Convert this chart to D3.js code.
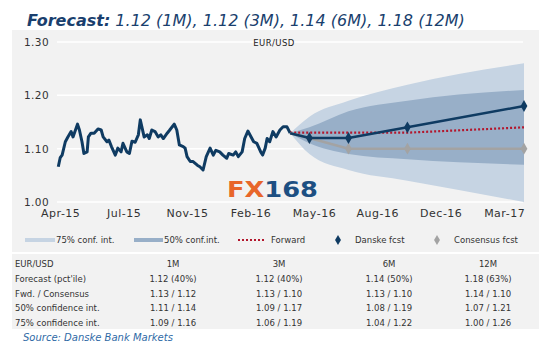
<!DOCTYPE html>
<html><head><meta charset="utf-8">
<script src="https://cdn.jsdelivr.net/npm/d3@7"></script>
<style>
body{margin:0;background:#fff;}
text{font-family:"DejaVu Sans",sans-serif;}
</style></head>
<body><svg id="c" width="554" height="342"></svg>
<script>
// ---------- DATA ----------
const historyDates = ["2015-04-17","2015-04-20","2015-04-23","2015-04-28","2015-05-02","2015-05-07","2015-05-10","2015-05-17","2015-05-20","2015-05-24","2015-05-27","2015-06-01","2015-06-03","2015-06-07","2015-06-12","2015-06-18","2015-06-23","2015-06-26","2015-07-02","2015-07-05","2015-07-09","2015-07-15","2015-07-19","2015-07-24","2015-07-27","2015-08-02","2015-08-06","2015-08-10","2015-08-15","2015-08-20","2015-08-23","2015-08-26","2015-08-29","2015-09-03","2015-09-06","2015-09-10","2015-09-15","2015-09-20","2015-09-24","2015-09-28","2015-10-04","2015-10-08","2015-10-15","2015-10-19","2015-10-23","2015-10-29","2015-11-01","2015-11-04","2015-11-09","2015-11-13","2015-11-20","2015-11-24","2015-11-29","2015-12-04","2015-12-10","2015-12-15","2015-12-19","2015-12-25","2015-12-30","2016-01-05","2016-01-08","2016-01-15","2016-01-19","2016-01-23","2016-01-29","2016-02-02","2016-02-07","2016-02-12","2016-02-16","2016-02-21","2016-02-27","2016-03-01","2016-03-05","2016-03-08","2016-03-12","2016-03-17","2016-03-22","2016-03-28","2016-04-02","2016-04-08","2016-04-13"];
const historyValues = [1.066,1.083,1.088,1.113,1.122,1.132,1.122,1.146,1.135,1.113,1.091,1.094,1.122,1.129,1.129,1.137,1.135,1.122,1.113,1.116,1.104,1.088,1.101,1.094,1.110,1.094,1.091,1.114,1.112,1.126,1.154,1.138,1.122,1.126,1.119,1.135,1.132,1.122,1.126,1.119,1.129,1.135,1.146,1.135,1.107,1.104,1.101,1.085,1.076,1.076,1.069,1.066,1.060,1.085,1.101,1.088,1.097,1.094,1.088,1.082,1.091,1.088,1.094,1.085,1.094,1.119,1.133,1.122,1.113,1.110,1.094,1.088,1.101,1.119,1.113,1.132,1.122,1.135,1.141,1.141,1.129];

const horizonLabels = ["Spot","1M","3M","6M","12M"];
const horizonDates = ["2016-04-13","2016-05-13","2016-07-13","2016-10-13","2017-04-13"];
const danskeFcst = [1.129,1.12,1.12,1.14,1.18];
const consensusFcst = [1.129,1.12,1.10,1.10,1.10];
const forwardFcst = [1.13,1.13,1.13,1.13,1.14];
const ci50Low  = [1.129,1.11,1.09,1.08,1.07];
const ci50High = [1.129,1.14,1.17,1.19,1.21];
const ci75Low  = [1.129,1.09,1.06,1.04,1.00];
const ci75High = [1.129,1.16,1.19,1.22,1.26];

const xTickDates  = ["2015-04-20","2015-07-28","2015-11-04","2016-02-11","2016-05-20","2016-08-27","2016-12-04","2017-03-13"];
const xTickLabels = ["Apr-15","Jul-15","Nov-15","Feb-16","May-16","Aug-16","Dec-16","Mar-17"];
const yTicks = [1.00,1.10,1.20,1.30];

const tableHeader = ["EUR/USD","1M","3M","6M","12M"];
const tableRows = [
  ["Forecast (pct'ile)","1.12 (40%)","1.12 (40%)","1.14 (50%)","1.18 (63%)"],
  ["Fwd. / Consensus","1.13 / 1.12","1.13 / 1.10","1.13 / 1.10","1.14 / 1.10"],
  ["50% confidence int.","1.11 / 1.14","1.09 / 1.17","1.08 / 1.19","1.07 / 1.21"],
  ["75% confidence int.","1.09 / 1.16","1.06 / 1.19","1.04 / 1.22","1.00 / 1.26"]
];

// ---------- DRAW ----------
const P = d3.timeParse("%Y-%m-%d");
const svg = d3.select("#c");
const C = {navy:"#0f3b62", gray:"#a3a3a3", red:"#b3162c", light:"#c6d4e3", dark:"#98afc8", bg:"#f2f2f2"};

// panels
svg.append("rect").attr("x",12).attr("y",30).attr("width",527).attr("height",222).attr("fill",C.bg);
svg.append("rect").attr("x",12).attr("y",254).attr("width",527).attr("height",75).attr("fill",C.bg);

// title
const title = svg.append("text").attr("x",27).attr("y",26).attr("font-size",16).attr("fill","#1a3f6e").attr("font-style","italic");
title.append("tspan").attr("font-weight","bold").text("Forecast:");
title.append("tspan").text(" 1.12 (1M), 1.12 (3M), 1.14 (6M), 1.18 (12M)");

const x = d3.scaleTime().domain([P("2015-04-15"), P("2017-04-13")]).range([57,524]);
const y = d3.scaleLinear().domain([1.00,1.30]).range([202,42]);

// grid
svg.append("g").selectAll("line").data(yTicks).join("line")
  .attr("x1",57).attr("x2",523).attr("y1",d=>y(d)).attr("y2",d=>y(d))
  .attr("stroke","#ffffff").attr("stroke-width",1.5);

// y axis labels
const yAxis = svg.append("g").attr("transform","translate(49,0)")
  .call(d3.axisLeft(y).tickValues(yTicks).tickFormat(d3.format(".2f")).tickSize(0).tickPadding(0));
yAxis.select(".domain").remove();
yAxis.selectAll("text").attr("font-size",10.5).attr("fill","#333").attr("font-family","DejaVu Sans").attr("letter-spacing",0.4);

// x axis labels
const xAxis = svg.append("g").attr("transform","translate(0,209)")
  .call(d3.axisBottom(x).tickValues(xTickDates.map(P)).tickFormat((d,i)=>xTickLabels[i]).tickSize(0).tickPadding(0));
xAxis.select(".domain").remove();
xAxis.selectAll("text").attr("font-size",11).attr("fill","#333").attr("font-family","DejaVu Sans").attr("letter-spacing",0.5);

svg.append("text").attr("x",274).attr("y",46).attr("text-anchor","middle").attr("font-size",8.5)
  .attr("fill","#222").attr("letter-spacing",0.4).text("EUR/USD");

// fans
const hd = horizonDates.map(P);
const area = (lo,hi)=>d3.area().curve(d3.curveMonotoneX).x((d,i)=>x(hd[i])).y0((d,i)=>y(lo[i])).y1((d,i)=>y(hi[i]));
svg.append("path").datum(hd).attr("d",area(ci75Low,ci75High)).attr("fill",C.light);
svg.append("path").datum(hd).attr("d",area(ci50Low,ci50High)).attr("fill",C.dark);

// history
const hist = historyDates.map((d,i)=>({d:P(d),v:historyValues[i]}));
svg.append("path").datum(hist).attr("fill","none").attr("stroke",C.navy).attr("stroke-width",3).attr("stroke-linejoin","round")
  .attr("d",d3.line().x(d=>x(d.d)).y(d=>y(d.v)));

// forward
const lineOf = arr => d3.line().x((d,i)=>x(hd[i])).y((d,i)=>y(arr[i]));
svg.append("path").datum(hd).attr("d",lineOf(forwardFcst)).attr("fill","none").attr("stroke",C.red)
  .attr("stroke-width",2.2).attr("stroke-dasharray","2,2");
// consensus
svg.append("path").datum(hd).attr("d",lineOf(consensusFcst)).attr("fill","none").attr("stroke",C.gray).attr("stroke-width",2.5);
svg.append("g").selectAll("path").data(hd.slice(1)).join("path")
  .attr("transform",(d,i)=>`translate(${x(d)},${y(consensusFcst[i+1])})`)
  .attr("d",d3.symbol(d3.symbolDiamond,40)).attr("fill",C.gray);
// danske
svg.append("path").datum(hd).attr("d",lineOf(danskeFcst)).attr("fill","none").attr("stroke",C.navy).attr("stroke-width",2.5);
svg.append("g").selectAll("path").data(hd.slice(1)).join("path")
  .attr("transform",(d,i)=>`translate(${x(d)},${y(danskeFcst[i+1])})`)
  .attr("d",d3.symbol(d3.symbolDiamond,i=>40)).attr("fill",C.navy);

// FX168 logo text
const logo = svg.append("text").attr("x",227).attr("y",197).attr("font-size",21).attr("font-weight","bold")
  .attr("font-family","Liberation Sans").attr("textLength",91).attr("lengthAdjust","spacingAndGlyphs");
logo.append("tspan").attr("fill","#e8662a").text("FX");
logo.append("tspan").attr("fill","#1d4f82").text("168");

// legend
const lg = svg.append("g").attr("font-size",8.5).attr("fill","#333");
lg.append("rect").attr("x",25).attr("y",238).attr("width",30).attr("height",4).attr("fill",C.light);
lg.append("text").attr("x",56).attr("y",243).text("75% conf. int.");
lg.append("rect").attr("x",134).attr("y",238).attr("width",29).attr("height",4).attr("fill",C.dark);
lg.append("text").attr("x",164).attr("y",243).text("50% conf.int.");
lg.append("line").attr("x1",238).attr("x2",266).attr("y1",240).attr("y2",240).attr("stroke",C.red).attr("stroke-width",2).attr("stroke-dasharray","2,2");
lg.append("text").attr("x",271).attr("y",243).text("Forward");
lg.append("path").attr("transform","translate(338,240)").attr("d",d3.symbol(d3.symbolDiamond,30)).attr("fill",C.navy);
lg.append("text").attr("x",355).attr("y",243).text("Danske fcst");
lg.append("path").attr("transform","translate(437,240)").attr("d",d3.symbol(d3.symbolDiamond,30)).attr("fill",C.gray);
lg.append("text").attr("x",454).attr("y",243).text("Consensus fcst");

// table
const colX = [15,173,279,389,488];
const rowY = [267,282,296.5,311,326];
const tg = svg.append("g").attr("font-size",8.5).attr("fill","#333");
[tableHeader, ...tableRows].forEach((row,r)=>{
  row.forEach((cell,c)=>{
    tg.append("text").attr("x",colX[c]).attr("y",rowY[r]).attr("text-anchor",c===0?"start":"middle").text(cell);
  });
});

// source
svg.append("text").attr("x",23).attr("y",341).attr("font-size",10).attr("font-style","italic").attr("fill","#2f6aa6").text("Source: Danske Bank Markets");
</script></body></html>
